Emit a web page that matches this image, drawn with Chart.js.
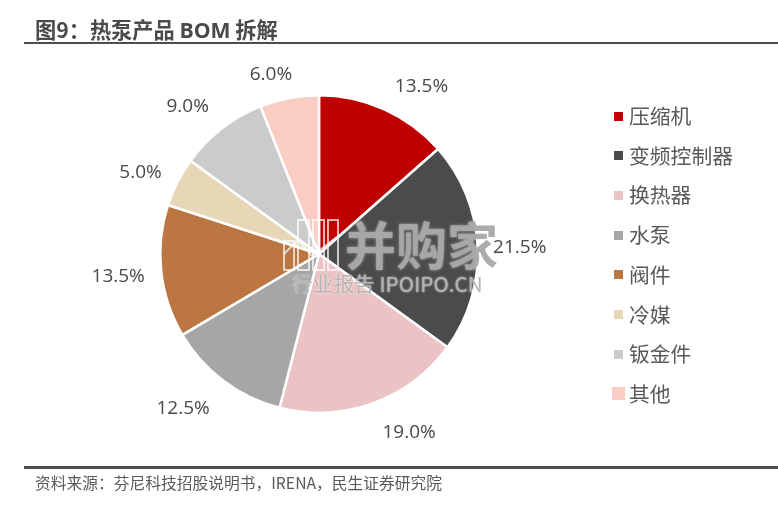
<!DOCTYPE html>
<html lang="zh"><head><meta charset="utf-8">
<script src="https://cdn.jsdelivr.net/npm/chart.js@4"></script>
<style>
html,body{margin:0;padding:0;background:#fff;width:778px;height:508px;overflow:hidden}
#wrap{position:relative;width:778px;height:508px;font-family:"Noto Sans CJK SC",sans-serif;color:#595959}
#c{position:absolute;left:0;top:0}
.abs{position:absolute;white-space:nowrap}
#title{left:35px;top:15px;font-size:21.2px;line-height:28px;font-weight:700;color:#4a4a4a}
#title .lat{font-family:"Open Sans";}
.rule{position:absolute;left:24px;width:754px;background:#4d4d4d}
#source{left:35px;top:472px;font-size:15.75px;line-height:22px;color:#595959}
#legend{position:absolute;left:0;top:0}
.li{position:absolute;font-size:20.8px;line-height:28px;color:#595959;left:629px;white-space:nowrap}
.sw{position:absolute}
.pl{position:absolute;font-family:"Open Sans";font-size:19px;line-height:24px;color:#484848;transform:translate(-50%,-50%);white-space:nowrap}
#wm1{left:345px;top:213px;font-size:51px;line-height:60px;font-weight:700;color:rgba(168,168,168,.95);letter-spacing:0;text-shadow:0 0 3px rgba(255,255,255,.5)}
#wm2{left:292px;top:270px;font-size:20.6px;line-height:26px;font-weight:400;letter-spacing:.1px;color:rgba(178,178,178,.95);text-shadow:0 0 2px rgba(255,255,255,.8)}
#wmi{position:absolute;left:280px;top:216px}
</style></head><body>
<div id="wrap">
<canvas id="c" width="778" height="508"></canvas>
<div id="title" class="abs">图9：热泵产品 <span class="lat">BOM</span> 拆解</div>
<div class="rule" style="top:42px;height:2px"></div>
<div class="rule" style="top:466px;height:3px"></div>
<div id="source" class="abs">资料来源：芬尼科技招股说明书，IRENA，民生证券研究院</div>
<div id="legend"></div>
<div id="labels"></div>
<svg id="wmi" width="64" height="58" fill="none" stroke="rgba(255,255,255,.7)" stroke-width="2">
<rect x="4" y="25" width="10" height="29"/><rect x="18" y="4" width="11" height="50"/><rect x="33" y="4" width="11" height="50"/><rect x="48" y="4" width="10" height="50"/>
<polyline points="4,38 18,24 32,40 58,20"/>
</svg>
<div id="wm1" class="abs">并购家</div>
<div id="wm2" class="abs">行业报告 IPOIPO.CN</div>
</div>
<script>
const categories=["压缩机","变频控制器","换热器","水泵","阀件","冷媒","钣金件","其他"];
const shares=[13.5,21.5,19.0,12.5,13.5,5.0,9.0,6.0];
const palette=["#c00000","#4a4b4d","#ecc3c4","#a6a6a6","#bc7642","#e7d7b7","#cbcbcb","#f9cdc3"];
const labelNudge=[[21,11],[3,1],[23,-9],[-17,-5],[-4,-1],[-2,7],[-10,7],[-11,13]];
const labelDist=198;

const placeLabels={id:"placeLabels",afterDatasetsDraw(chart){
  const box=document.getElementById("labels");box.innerHTML="";
  chart.getDatasetMeta(0).data.forEach((arc,i)=>{
    const a=(arc.startAngle+arc.endAngle)/2;
    const d=document.createElement("div");d.className="pl";
    d.textContent=shares[i].toFixed(1)+"%";
    d.style.left=(arc.x+Math.cos(a)*labelDist+labelNudge[i][0])+"px";
    d.style.top=(arc.y+Math.sin(a)*labelDist+labelNudge[i][1])+"px";
    box.appendChild(d);
  });
}};
new Chart(document.getElementById("c"),{
  type:"pie",
  data:{labels:categories,datasets:[{data:shares,backgroundColor:palette,borderColor:"#fff",borderWidth:2.5}]},
  options:{responsive:false,animation:false,rotation:0,
    layout:{padding:{left:159,right:299,top:94,bottom:94}},
    plugins:{legend:{display:false},tooltip:{enabled:false}}},
  plugins:[placeLabels]
});
const lg=document.getElementById("legend");
categories.forEach((c,i)=>{
  const y=116+i*39.7, s=i===7?13:9;
  const sw=document.createElement("div");sw.className="sw";
  sw.style.cssText=`left:${618-s/2}px;top:${y-s/2}px;width:${s}px;height:${s}px;background:${palette[i]}`;
  const t=document.createElement("div");t.className="li";t.textContent=c;t.style.top=(y-15)+"px";
  lg.append(sw,t);
});
</script>
</body></html>
